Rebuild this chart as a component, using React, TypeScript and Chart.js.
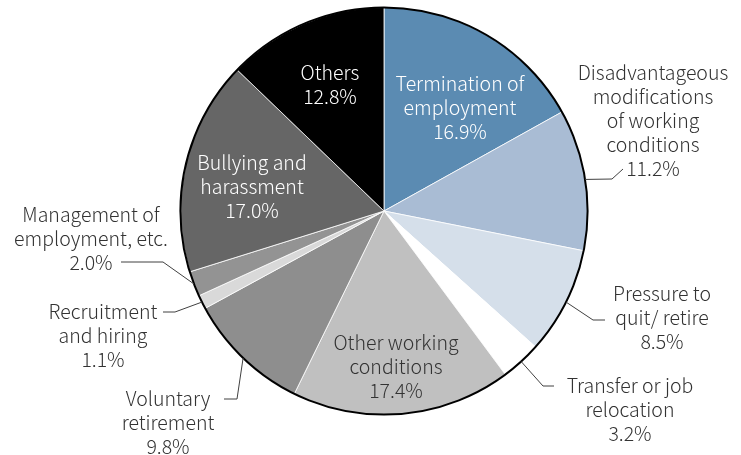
import React, { useEffect, useRef } from "react";
import { Chart, registerables } from "chart.js";

Chart.register(...registerables);

const categories = [
  "Termination of employment",
  "Disadvantageous modifications of working conditions",
  "Pressure to quit/ retire",
  "Transfer or job relocation",
  "Other working conditions",
  "Voluntary retirement",
  "Recruitment and hiring",
  "Management of employment, etc.",
  "Bullying and harassment",
  "Others",
];
const values = [16.9, 11.2, 8.5, 3.2, 17.4, 9.8, 1.1, 2.0, 17.0, 12.8];
const labelLines = [
  ["Termination of", "employment"],
  ["Disadvantageous", "modifications", "of working", "conditions"],
  ["Pressure to", "quit/ retire"],
  ["Transfer or job", "relocation"],
  ["Other working", "conditions"],
  ["Voluntary", "retirement"],
  ["Recruitment", "and hiring"],
  ["Management of", "employment, etc."],
  ["Bullying and", "harassment"],
  ["Others"],
];
const colors = [
  "#5b8bb2",
  "#a9bcd4",
  "#d5dfea",
  "#ffffff",
  "#c0c0c0",
  "#8e8e8e",
  "#d9d9d9",
  "#939393",
  "#666666",
  "#000000",
];

// label layout: x,y = centre of first text line; leader = [elbow, end] points (null if inside)
type Layout = { x: number; y: number; color: string; leader: number[][] | null };
const layouts: Layout[] = [
  { x: 460, y: 84, color: "#ffffff", leader: null },
  { x: 653, y: 73, color: "#333333", leader: [[612, 179], [623, 169]] },
  { x: 662, y: 294, color: "#333333", leader: [[593, 320], [605, 320]] },
  { x: 630, y: 386, color: "#333333", leader: [[543, 386], [554, 386]] },
  { x: 396, y: 343, color: "#333333", leader: null },
  { x: 168, y: 399, color: "#333333", leader: [[237, 399], [224, 399]] },
  { x: 103, y: 312, color: "#333333", leader: [[175, 312], [163, 312]] },
  { x: 91, y: 215, color: "#333333", leader: [[163, 262], [121, 262]] },
  { x: 252, y: 163, color: "#ffffff", leader: null },
  { x: 330, y: 73, color: "#ffffff", leader: null },
];

const FONT = '300 19.5px "Noto Sans CJK JP", "Noto Sans", sans-serif';
const LINE_H = 24;

const labelPlugin = {
  id: "customLabels",
  afterDatasetsDraw(chart: any) {
    const ctx = chart.ctx;
    const meta = chart.getDatasetMeta(0);
    const arcs = meta.data;
    if (!arcs.length) return;
    const a0 = arcs[0];
    const cx = a0.x;
    const cy = a0.y;
    const r = a0.outerRadius;
    ctx.save();
    // outer outline
    ctx.beginPath();
    ctx.arc(cx, cy, r, 0, Math.PI * 2);
    ctx.strokeStyle = "#000000";
    ctx.lineWidth = 2;
    ctx.stroke();

    ctx.font = FONT;
    ctx.textAlign = "center";
    ctx.textBaseline = "middle";
    arcs.forEach((arc: any, i: number) => {
      const lay = layouts[i];
      const lines = [...labelLines[i], values[i].toFixed(1) + "%"];
      ctx.fillStyle = lay.color;
      lines.forEach((t, k) => ctx.fillText(t, lay.x, lay.y + k * LINE_H));
      if (lay.leader) {
        const mid = (arc.startAngle + arc.endAngle) / 2;
        const ax = cx + Math.cos(mid) * r;
        const ay = cy + Math.sin(mid) * r;
        ctx.beginPath();
        ctx.moveTo(ax, ay);
        lay.leader.forEach((p) => ctx.lineTo(p[0], p[1]));
        ctx.strokeStyle = "#404040";
        ctx.lineWidth = 1;
        ctx.stroke();
      }
    });
    ctx.restore();
  },
};

export default function App() {
  const ref = useRef<HTMLCanvasElement>(null);
  useEffect(() => {
    if (!ref.current) return;
    const chart = new Chart(ref.current, {
      type: "pie",
      data: {
        labels: categories,
        datasets: [
          {
            data: values,
            backgroundColor: colors,
            borderColor: "#ffffff",
            borderWidth: 0.8,
          },
        ],
      },
      options: {
        responsive: false,
        animation: false,
        layout: { padding: { top: 7, bottom: 40, left: 180, right: 153 } },
        plugins: {
          legend: { display: false },
          tooltip: { enabled: false },
        },
      },
      plugins: [labelPlugin],
    });
    return () => chart.destroy();
  }, []);
  return (
    <div style={{ position: "fixed", left: 0, top: 0, width: 741, height: 455, background: "#fff" }}>
      <canvas ref={ref} width={741} height={455} style={{ width: 741, height: 455 }} />
    </div>
  );
}
